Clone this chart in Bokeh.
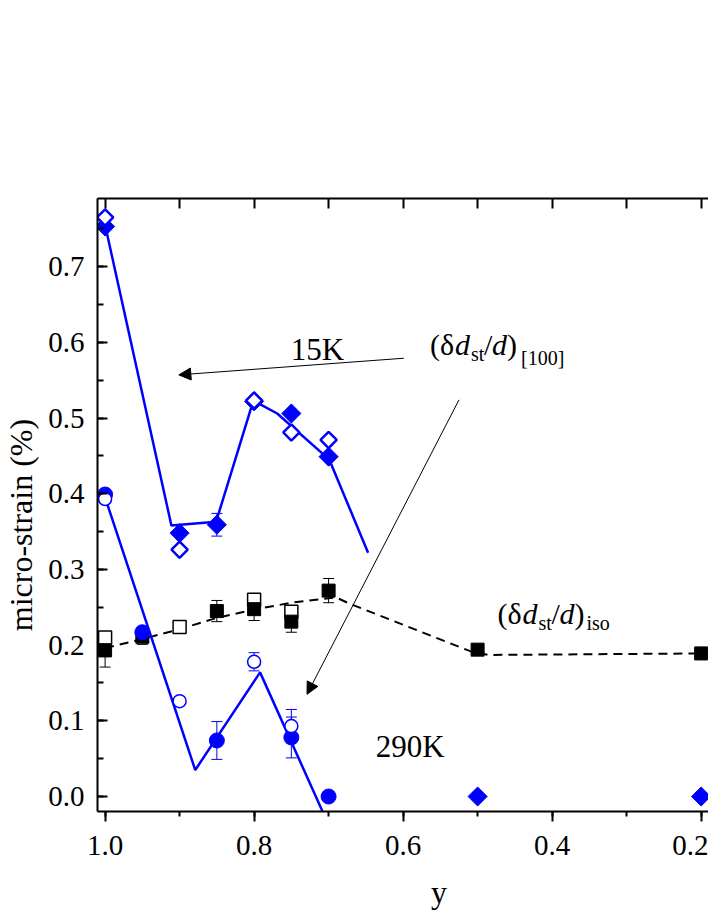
import numpy as np
from bokeh.plotting import figure
from bokeh.models import (Range1d, LinearAxis, SingleIntervalTicker, NumeralTickFormatter,
                          Whisker, ColumnDataSource, Arrow, NormalHead, Label, TeeHead)
from bokeh.embed import file_html
from bokeh.resources import INLINE

# ---------------- data ----------------
# 15 K, [100] micro-strain (blue diamonds)
d15_filled_x = [1.0, 0.9, 0.85, 0.8, 0.75, 0.7, 0.5, 0.2]
d15_filled_y = [0.753, 0.348, 0.359, 0.522, 0.506, 0.449, 0.0, 0.0]
d15_filled_err = [0.0, 0.0, 0.015, 0.0, 0.0, 0.0, 0.0, 0.0]
d15_open_x = [1.0, 0.9, 0.8, 0.75, 0.7]
d15_open_y = [0.765, 0.326, 0.523, 0.481, 0.471]
fit15_x = [1.0, 0.911, 0.851, 0.801, 0.769, 0.699, 0.647]
fit15_y = [0.755, 0.358, 0.363, 0.523, 0.506, 0.445, 0.322]

# 290 K, [100] micro-strain (blue circles)
c290_filled_x = [1.0, 0.95, 0.85, 0.75, 0.7]
c290_filled_y = [0.399, 0.217, 0.074, 0.078, 0.0]
c290_filled_err = [0.0, 0.0, 0.025, 0.027, 0.0]
c290_open_x = [1.0, 0.9, 0.8, 0.75]
c290_open_y = [0.393, 0.126, 0.178, 0.093]
c290_open_err = [0.0, 0.0, 0.012, 0.022]
fit290_x = [1.0, 0.879, 0.792, 0.708, 0.69]
fit290_y = [0.395, 0.035, 0.164, -0.02, -0.06]

# isotropic micro-strain (black squares)
iso_filled_x = [1.0, 0.95, 0.85, 0.8, 0.75, 0.7, 0.5, 0.2]
iso_filled_y = [0.193, 0.211, 0.245, 0.2475, 0.231, 0.272, 0.194, 0.189]
iso_filled_err = [0.022, 0.010, 0.014, 0.015, 0.014, 0.016, 0.005, 0.008]
iso_open_x = [1.0, 0.9, 0.8, 0.75]
iso_open_y = [0.210, 0.224, 0.260, 0.244]
iso_open_err = [0.0, 0.008, 0.0, 0.0]
iso_fit_x = [1.0, 0.95, 0.9, 0.85, 0.8, 0.75, 0.7, 0.69, 0.67, 0.51, 0.485, 0.2]
iso_fit_y = [0.196, 0.208, 0.221, 0.236, 0.247, 0.256, 0.262, 0.263, 0.254, 0.192, 0.187, 0.189]

FONT = "Liberation Serif"
BLUE = "#0000FF"

p = figure(width=708, height=915,
           x_range=Range1d(1.0102, 0.1901), y_range=Range1d(-0.0198, 0.7900),
           output_backend="svg", toolbar_location=None,
           x_axis_location=None, y_axis_location=None,
           min_border_left=97, min_border_right=0, min_border_top=198, min_border_bottom=104)
p.outline_line_color = None
p.xgrid.visible = False
p.ygrid.visible = False
p.background_fill_color = "white"

# axes
left = LinearAxis(ticker=SingleIntervalTicker(interval=0.1, num_minor_ticks=2),
                  formatter=NumeralTickFormatter(format="0.0"),
                  axis_label="micro-strain (%)" + "\u00a0" * 5)
left.major_tick_in = 10
left.major_tick_out = 0
left.minor_tick_in = 6
left.minor_tick_out = 0
left.major_label_standoff = 13
left.axis_label_standoff = 6
p.add_layout(left, "left")

bottom = LinearAxis(ticker=SingleIntervalTicker(interval=0.2, num_minor_ticks=2),
                    formatter=NumeralTickFormatter(format="0.0"),
                    axis_label="\u00a0" * 9 + "y")
bottom.major_tick_in = 0
bottom.major_tick_out = 10
bottom.minor_tick_in = 0
bottom.minor_tick_out = 5
bottom.major_label_standoff = 14
bottom.axis_label_standoff = 16
p.add_layout(bottom, "below")

top = LinearAxis(ticker=SingleIntervalTicker(interval=0.1, num_minor_ticks=0))
top.major_tick_in = 10
top.major_tick_out = 0
top.minor_tick_line_color = None
p.add_layout(top, "above")

for ax in (left, bottom, top):
    ax.axis_line_width = 2
    ax.axis_line_color = "black"
    ax.major_tick_line_width = 2
    ax.minor_tick_line_width = 2
    ax.major_tick_line_color = "black"
    ax.major_label_text_font = FONT
    ax.major_label_text_font_size = "29px"
    ax.major_label_text_color = "black"
    ax.axis_label_text_font = FONT
    ax.axis_label_text_font_size = "32px"
    ax.axis_label_text_font_style = "normal"
    ax.axis_label_text_color = "black"
left.minor_tick_line_color = "black"
bottom.minor_tick_line_color = "black"
top.major_label_text_color = None


def whisk(xs, ys, errs, color):
    sel = [i for i, e in enumerate(errs) if e > 0]
    src = ColumnDataSource(dict(x=[xs[i] for i in sel],
                                lo=[ys[i] - errs[i] for i in sel],
                                hi=[ys[i] + errs[i] for i in sel]))
    w = Whisker(source=src, base="x", lower="lo", upper="hi",
                line_color=color, line_width=1,
                lower_head=TeeHead(size=11, line_color=color, line_width=1),
                upper_head=TeeHead(size=11, line_color=color, line_width=1))
    p.add_layout(w)


# isotropic series
p.line(iso_fit_x, iso_fit_y, line_color="black", line_width=2, line_dash="9 6")
whisk(iso_filled_x, iso_filled_y, iso_filled_err, "black")
whisk(iso_open_x, iso_open_y, iso_open_err, "black")
p.scatter(iso_open_x, iso_open_y, marker="square", size=13, fill_color="white",
          line_color="black", line_width=1.5)
p.scatter(iso_filled_x, iso_filled_y, marker="square", size=13, fill_color="black",
          line_color="black", line_width=1)

# blue fits
p.line(fit15_x, fit15_y, line_color=BLUE, line_width=2.5)
p.line(fit290_x, fit290_y, line_color=BLUE, line_width=2.5)

whisk(d15_filled_x, d15_filled_y, d15_filled_err, BLUE)
whisk(c290_filled_x, c290_filled_y, c290_filled_err, BLUE)
whisk(c290_open_x, c290_open_y, c290_open_err, BLUE)

p.scatter(d15_filled_x, d15_filled_y, marker="square", angle=np.pi / 4, size=13.5,
          fill_color=BLUE, line_color=BLUE, line_width=1)
p.scatter(d15_open_x, d15_open_y, marker="square", angle=np.pi / 4, size=11.5,
          fill_color="white", line_color=BLUE, line_width=2.5)
p.scatter(c290_filled_x, c290_filled_y, marker="circle", size=15,
          fill_color=BLUE, line_color=BLUE, line_width=1)
p.scatter(c290_open_x, c290_open_y, marker="circle", size=13,
          fill_color="white", line_color=BLUE, line_width=1.5)

# arrows
p.add_layout(Arrow(end=NormalHead(size=12, fill_color="black", line_color="black", line_width=1),
                   x_start=0.599, y_start=0.579, x_end=0.901, y_end=0.557,
                   line_color="black", line_width=1))
p.add_layout(Arrow(end=NormalHead(size=12, fill_color="black", line_color="black", line_width=1),
                   x_start=0.525, y_start=0.524, x_end=0.729, y_end=0.135,
                   line_color="black", line_width=1))


def lab(x, y, text, size="31px", style="normal", dx=0, dy=0, align="left"):
    p.add_layout(Label(x=x, y=y, x_offset=dx, y_offset=dy, text=text,
                       text_font=FONT, text_font_size=size, text_font_style=style,
                       text_baseline="alphabetic", text_align=align, text_color="black"))


lab(0.7507, 0.590, "15K")
lab(0.6366, 0.066, "290K")


def strain_label(x, y, sub, sub_dx, sub_dy):
    lab(x, y, "(\u03b4", size="30px")
    lab(x, y, "d", size="30px", style="italic", dx=25)
    lab(x, y, "st", size="20px", dx=41, dy=-9)
    lab(x, y, "/", size="30px", dx=54)
    lab(x, y, "d", size="30px", style="italic", dx=62)
    lab(x, y, ")", size="30px", dx=77)
    lab(x, y, sub, size="20px", dx=sub_dx, dy=sub_dy)


strain_label(0.5638, 0.5967, "[100]", 91, -13)
strain_label(0.4733, 0.2413, "iso", 89, -9)

open("out.html", "w").write(file_html(p, INLINE))
